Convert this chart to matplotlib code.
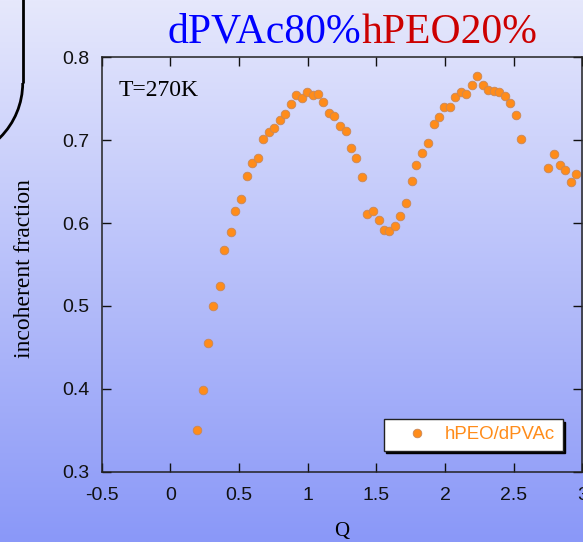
import numpy as np
import matplotlib
matplotlib.use("Agg")
import matplotlib.pyplot as plt
from matplotlib.patches import Arc

# ---- data ----
q = [0.194, 0.238, 0.277, 0.314, 0.360, 0.394, 0.438, 0.474, 0.515, 0.556,
     0.595, 0.637, 0.675, 0.717, 0.755, 0.795, 0.835, 0.875, 0.913, 0.957,
     0.996, 1.037, 1.076, 1.112, 1.156, 1.192, 1.236, 1.277, 1.314, 1.355,
     1.394, 1.430, 1.476, 1.516, 1.554, 1.593, 1.634, 1.673, 1.714, 1.756,
     1.792, 1.833, 1.875, 1.918, 1.955, 1.993, 2.035, 2.071, 2.115, 2.154,
     2.195, 2.234, 2.273, 2.314, 2.355, 2.394, 2.433, 2.472, 2.513, 2.554,
     2.751, 2.792, 2.836, 2.875, 2.914, 2.955]
frac = [0.350, 0.399, 0.455, 0.500, 0.524, 0.567, 0.589, 0.614, 0.629, 0.657,
        0.672, 0.679, 0.701, 0.710, 0.715, 0.724, 0.731, 0.744, 0.754, 0.751,
        0.758, 0.755, 0.756, 0.746, 0.733, 0.729, 0.717, 0.711, 0.690, 0.679,
        0.656, 0.611, 0.615, 0.604, 0.592, 0.590, 0.597, 0.608, 0.624, 0.651,
        0.670, 0.685, 0.696, 0.720, 0.728, 0.740, 0.740, 0.752, 0.758, 0.756,
        0.766, 0.777, 0.767, 0.761, 0.759, 0.758, 0.753, 0.745, 0.730, 0.701,
        0.667, 0.683, 0.670, 0.664, 0.650, 0.659]
series_label = "hPEO/dPVAc"
xticks = [-0.5, 0, 0.5, 1, 1.5, 2, 2.5, 3]
xtick_labels = ["-0.5", "0", "0.5", "1", "1.5", "2", "2.5", "3"]
yticks = [0.3, 0.4, 0.5, 0.6, 0.7, 0.8]
ytick_labels = ["0.3", "0.4", "0.5", "0.6", "0.7", "0.8"]
title_blue = "dPVAc80%"
title_red = "hPEO20%"
temp_label = "T=270K"

W, H = 583, 542
fig = plt.figure(figsize=(W / 100, H / 100), dpi=100)

# background gradient
bg = fig.add_axes([0, 0, 1, 1], zorder=-10)
top = np.array([230, 232, 252]) / 255
bot = np.array([138, 152, 248]) / 255
t = np.linspace(0, 1, 256)[:, None]
grad = (top[None, :] * (1 - t) + bot[None, :] * t)[:, None, :]
grad = np.repeat(grad, 2, axis=1)
bg.imshow(grad, aspect='auto', extent=[0, W, H, 0], interpolation='bilinear')
bg.set_xlim(0, W)
bg.set_ylim(H, 0)
bg.axis('off')
# partial rounded box at top-left
bg.plot([22.7, 22.7], [-5, 83], color='black', lw=2.0, solid_capstyle='butt')
bg.add_patch(Arc((-54.3, 83), 154, 154, theta1=0, theta2=90, color='black', lw=2.0))

# main axes
left, right, ytop, ybot = 101.7, 582.4, 57.3, 471.7
ax = fig.add_axes([left / W, (H - ybot) / H, (right - left) / W, (ybot - ytop) / H])
ax.set_facecolor('none')
ax.plot(q, frac, linestyle='none', marker='o', markersize=6.2,
        markerfacecolor='#ff8c1a', markeredgecolor='#c8885a', markeredgewidth=0.6,
        label=series_label)
ax.set_xlim(-0.5, 3)
ax.set_ylim(0.3, 0.8)

tickfont = dict(family=['Liberation Sans Narrow', 'Liberation Sans'], size=14)
ax.set_xticks(xticks)
ax.set_xticklabels(xtick_labels, fontdict=tickfont, color='#111111')
ax.set_yticks(yticks)
ax.set_yticklabels(ytick_labels, fontdict=tickfont, color='#111111')
ax.tick_params(axis='both', direction='in', length=6.5, width=1.0, color='#111111',
               top=True, right=True)
ax.tick_params(axis='x', pad=11)
ax.tick_params(axis='y', pad=9)
for s in ax.spines.values():
    s.set_linewidth(1.1)
    s.set_color('#222222')

ax.text((118.3 - left) / (right - left), (ybot - 96) / (ybot - ytop), temp_label,
        transform=ax.transAxes, family='Liberation Serif', fontsize=17,
        ha='left', va='baseline', color='black')

leg = ax.legend(loc='lower right', bbox_to_anchor=(0.959, 0.0507), borderaxespad=0,
                numpoints=1, frameon=True, fancybox=False,
                shadow={'color': 'black', 'alpha': 1},
                prop={'family': 'Liberation Sans', 'size': 13.4},
                labelcolor='#ff8c1a', handlelength=2.75, handletextpad=0.15,
                borderpad=0.4)
leg.get_frame().set_facecolor('white')
leg.get_frame().set_edgecolor('#222222')
leg.get_frame().set_linewidth(1.0)
leg.get_frame().set_alpha(1)

# title in two colours
split = 361.5
fig.text(split / W, (H - 42.7) / H, title_blue, color='#0000ff', family='Liberation Serif',
         fontsize=30, ha='right', va='baseline')
fig.text(split / W, (H - 42.7) / H, title_red, color='#cc0000', family='Liberation Serif',
         fontsize=30, ha='left', va='baseline')

# axis labels
fig.text(24.5 / W, (H - 268.3) / H, "incoherent fraction", rotation=90,
         family='Liberation Serif', fontsize=17, ha='center', va='center')
fig.text(342 / W, (H - 536) / H, "Q", family='Liberation Serif', fontsize=15,
         ha='center', va='baseline')

fig.savefig('out.png', dpi=100)
